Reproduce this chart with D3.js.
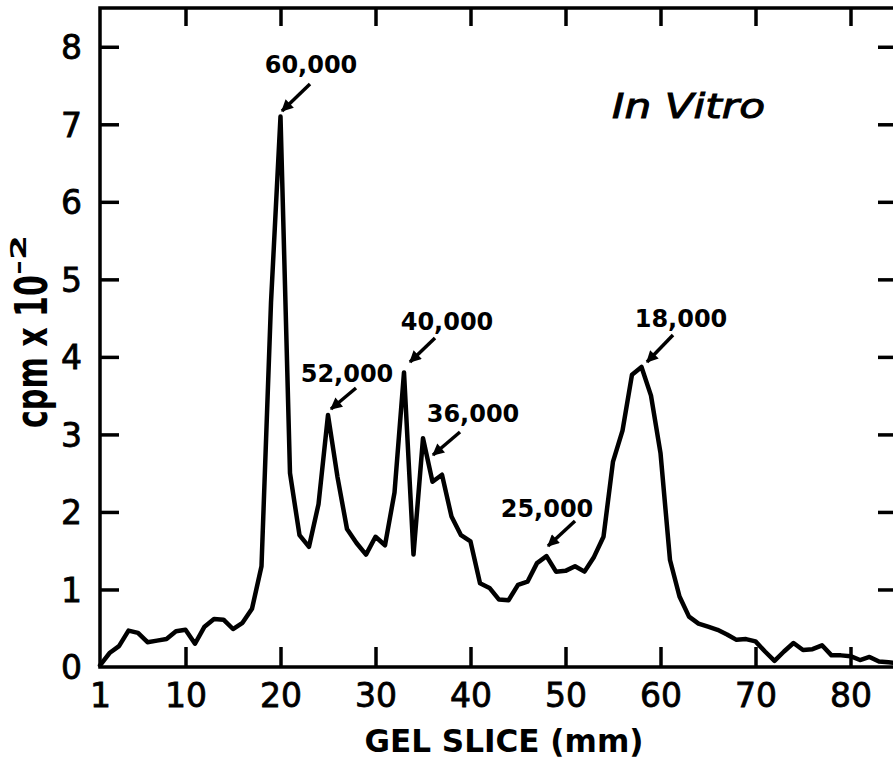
<!DOCTYPE html>
<html>
<head>
<meta charset="utf-8">
<script src="https://cdn.jsdelivr.net/npm/d3@7/dist/d3.min.js"></script>
<style>
  html, body { margin: 0; padding: 0; background: #fff; }
  svg { display: block; }
  text { font-family: "DejaVu Sans", sans-serif; fill: #000; }
</style>
</head>
<body>
<svg id="chart" width="893" height="763"></svg>
<script>
// ---- data ----
const slices = [1,2,3,4,5,6,7,8,9,10,11,12,13,14,15,16,17,18,19,20,
  21,22,23,24,25,26,27,28,29,30,31,32,33,34,35,36,37,38,39,40,
  41,42,43,44,45,46,47,48,49,50,51,52,53,54,55,56,57,58,59,60,
  61,62,63,64,65,66,67,68,69,70,71,72,73,74,75,76,77,78,79,80,
  81,82,83,84,85];
const cpm = [0.02,0.18,0.27,0.47,0.44,0.32,0.34,0.36,0.46,0.48,
  0.30,0.52,0.62,0.61,0.49,0.57,0.75,1.30,4.70,7.10,
  2.50,1.70,1.55,2.10,3.25,2.45,1.78,1.60,1.45,1.68,
  1.57,2.25,3.80,1.45,2.95,2.39,2.48,1.94,1.70,1.62,
  1.08,1.02,0.87,0.86,1.06,1.10,1.34,1.43,1.23,1.24,
  1.30,1.23,1.42,1.68,2.65,3.05,3.77,3.87,3.50,2.76,
  1.38,0.91,0.65,0.56,0.52,0.48,0.42,0.35,0.36,0.33,
  0.20,0.08,0.20,0.31,0.22,0.23,0.28,0.15,0.15,0.14,
  0.09,0.13,0.07,0.06,0.05];
const xTickValues = [1,10,20,30,40,50,60,70,80];
const xTickLabels = ["1","10","20","30","40","50","60","70","80"];
const yTickValues = [0,1,2,3,4,5,6,7,8];
const yTickLabels = ["0","1","2","3","4","5","6","7","8"];
const annotLabels = ["60,000","52,000","40,000","36,000","25,000","18,000"];
const xTitle = "GEL SLICE (mm)";
const yTitleMain = "cpm x 10";
const yTitleSup = "-2";
const panelLabel = "In Vitro";

// ---- layout ----
const mLeft = 100, mRight = 898, mTop = 8, mBottom = 667;
const svg = d3.select("#chart");
const x = d3.scaleLinear().domain([1, 85]).range([mLeft, mRight]);
const y = d3.scaleLinear().domain([0, 8.5]).range([mBottom, mTop]);

// frame
svg.append("rect")
  .attr("x", mLeft).attr("y", mTop)
  .attr("width", mRight - mLeft).attr("height", mBottom - mTop)
  .attr("fill", "none").attr("stroke", "#000").attr("stroke-width", 3.5);

const tickStyle = g => {
  g.select(".domain").remove();
  g.selectAll(".tick line").attr("stroke", "#000").attr("stroke-width", 3.5);
};
const xInnerTicks = xTickValues.filter(v => v !== 1);
const yInnerTicks = yTickValues.filter(v => v !== 0);

// bottom ticks + labels
const xAxisBottom = svg.append("g").attr("transform", `translate(0,${mBottom})`)
  .call(d3.axisBottom(x).tickValues(xTickValues).tickSize(-20).tickPadding(0)
    .tickFormat((d, i) => xTickLabels[i]));
xAxisBottom.call(tickStyle);
xAxisBottom.selectAll(".tick").filter(d => d === 1).select("line").remove();
xAxisBottom.selectAll(".tick text")
  .attr("y", 40).attr("dy", 0)
  .style("font-size", "33px").style("font-family", "DejaVu Sans, sans-serif")
  .attr("fill", "#000").attr("stroke", "#000").attr("stroke-width", 0.8);

// top ticks
const xAxisTop = svg.append("g").attr("transform", `translate(0,${mTop})`)
  .call(d3.axisTop(x).tickValues(xInnerTicks).tickSize(-18).tickFormat(""));
xAxisTop.call(tickStyle);

// left ticks + labels
const yAxisLeft = svg.append("g").attr("transform", `translate(${mLeft},0)`)
  .call(d3.axisLeft(y).tickValues(yTickValues).tickSize(-19).tickPadding(0)
    .tickFormat((d, i) => yTickLabels[i]));
yAxisLeft.call(tickStyle);
yAxisLeft.selectAll(".tick").filter(d => d === 0).select("line").remove();
yAxisLeft.selectAll(".tick text")
  .attr("x", -18).attr("dy", "0.36em")
  .style("font-size", "33px").style("font-family", "DejaVu Sans, sans-serif")
  .attr("fill", "#000").attr("stroke", "#000").attr("stroke-width", 0.8);

// right ticks
const yAxisRight = svg.append("g").attr("transform", `translate(${mRight},0)`)
  .call(d3.axisRight(y).tickValues(yInnerTicks).tickSize(-20).tickFormat(""));
yAxisRight.call(tickStyle);

// data line
const line = d3.line().x((d, i) => x(slices[i])).y(d => y(d));
svg.append("path")
  .datum(cpm)
  .attr("d", line)
  .attr("fill", "none").attr("stroke", "#000")
  .attr("stroke-width", 4.5).attr("stroke-linejoin", "round").attr("stroke-linecap", "round");

// axis titles
svg.append("text")
  .attr("x", 504).attr("y", 752)
  .attr("text-anchor", "middle")
  .attr("textLength", 279).attr("lengthAdjust", "spacingAndGlyphs")
  .style("font-size", "32px").style("font-weight", "bold")
  .text(xTitle);

svg.append("text")
  .attr("transform", "translate(47,428) rotate(-90)")
  .attr("textLength", 153).attr("lengthAdjust", "spacingAndGlyphs")
  .style("font-size", "44px").style("font-weight", "bold")
  .text(yTitleMain);
svg.append("text")
  .attr("transform", "translate(26,275) rotate(-90)")
  .attr("textLength", 40).attr("lengthAdjust", "spacingAndGlyphs")
  .style("font-size", "22px").style("font-weight", "bold")
  .text(yTitleSup);

// panel label
svg.append("text")
  .attr("x", 612).attr("y", 118)
  .attr("textLength", 153).attr("lengthAdjust", "spacingAndGlyphs")
  .style("font-size", "34px").style("font-style", "italic")
  .attr("stroke", "#000").attr("stroke-width", 1)
  .text(panelLabel);

// annotations
const annotLayout = [
  {tx: 311, ty: 73, ax0: 310, ay0: 84, ax1: 282, ay1: 111},
  {tx: 347, ty: 382, ax0: 356, ay0: 388, ax1: 331, ay1: 409},
  {tx: 447, ty: 330, ax0: 435, ay0: 338, ax1: 410, ay1: 362},
  {tx: 473, ty: 422, ax0: 460, ay0: 432, ax1: 433, ay1: 455},
  {tx: 547, ty: 517, ax0: 575, ay0: 521, ax1: 548, ay1: 546},
  {tx: 681, ty: 327, ax0: 673, ay0: 335, ax1: 647, ay1: 362}
];
const defs = svg.append("defs");
defs.append("marker").attr("id", "ah")
  .attr("viewBox", "0 0 10 10").attr("refX", 9).attr("refY", 5)
  .attr("markerWidth", 4.2).attr("markerHeight", 3.4).attr("orient", "auto")
  .attr("markerUnits", "strokeWidth")
  .append("path").attr("d", "M0,0 L10,5 L0,10 Z").attr("fill", "#000");

annotLabels.forEach((lab, i) => {
  const L = annotLayout[i];
  svg.append("text")
    .attr("x", L.tx).attr("y", L.ty)
    .attr("text-anchor", "middle")
    .style("font-size", "24px").style("font-weight", "bold")
    .text(lab);
  svg.append("line")
    .attr("x1", L.ax0).attr("y1", L.ay0).attr("x2", L.ax1).attr("y2", L.ay1)
    .attr("stroke", "#000").attr("stroke-width", 3.5)
    .attr("marker-end", "url(#ah)");
});
</script>
</body>
</html>
